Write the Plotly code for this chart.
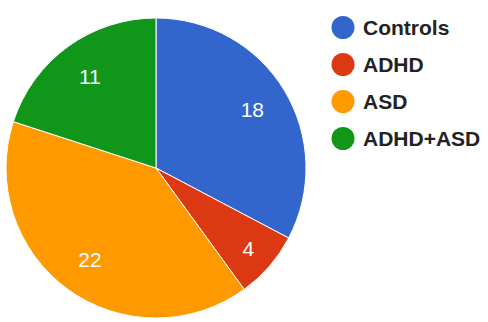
import plotly.graph_objects as go

# Group sizes
labels = ['Controls', 'ADHD', 'ASD', 'ADHD+ASD']
values = [18, 4, 22, 11]
colors = ['#3366cc', '#dc3912', '#ff9900', '#109618']

FONT = 'Liberation Sans, Arial, sans-serif'
PIE_DOMAIN = dict(x=[5 / 488, 307 / 488], y=[4 / 322, 304 / 322])

fig = go.Figure()

# coloured slices
fig.add_trace(go.Pie(
    labels=labels,
    values=values,
    sort=False,
    direction='clockwise',
    rotation=0,
    textinfo='none',
    marker=dict(colors=colors, line=dict(color='white', width=1)),
    domain=PIE_DOMAIN,
    showlegend=False,
))

# transparent ring on top, only to push the value labels outwards like Google Charts
fig.add_trace(go.Pie(
    labels=labels,
    values=values,
    sort=False,
    direction='clockwise',
    rotation=0,
    hole=0.5,
    textinfo='value',
    textposition='inside',
    insidetextorientation='horizontal',
    textfont=dict(color='white', size=21, family=FONT),
    marker=dict(colors=['rgba(0,0,0,0)'] * len(values), line=dict(width=0)),
    domain=PIE_DOMAIN,
    showlegend=False,
    hoverinfo='skip',
))

# Google-style legend: round swatches with labels on the right
for i, (lab, col) in enumerate(zip(labels, colors)):
    cy = 1 - (27.5 + 37 * i) / 322
    r = 11.5
    fig.add_shape(
        type='circle', xref='paper', yref='paper',
        x0=(343 - r) / 488, x1=(343 + r) / 488,
        y0=cy - r / 322, y1=cy + r / 322,
        fillcolor=col, line=dict(width=0),
    )
    fig.add_annotation(
        x=361 / 488, y=cy, xref='paper', yref='paper',
        text='<b>%s</b>' % lab, showarrow=False,
        xanchor='left', yanchor='middle',
        font=dict(family=FONT, size=21, color='#222222'),
    )

fig.update_layout(
    width=488,
    height=322,
    margin=dict(l=0, r=0, t=0, b=0),
    paper_bgcolor='white',
    plot_bgcolor='white',
    font=dict(family=FONT),
)

fig.write_html('out.html', config={'displayModeBar': False},
               post_script="document.body.style.margin='0';")
